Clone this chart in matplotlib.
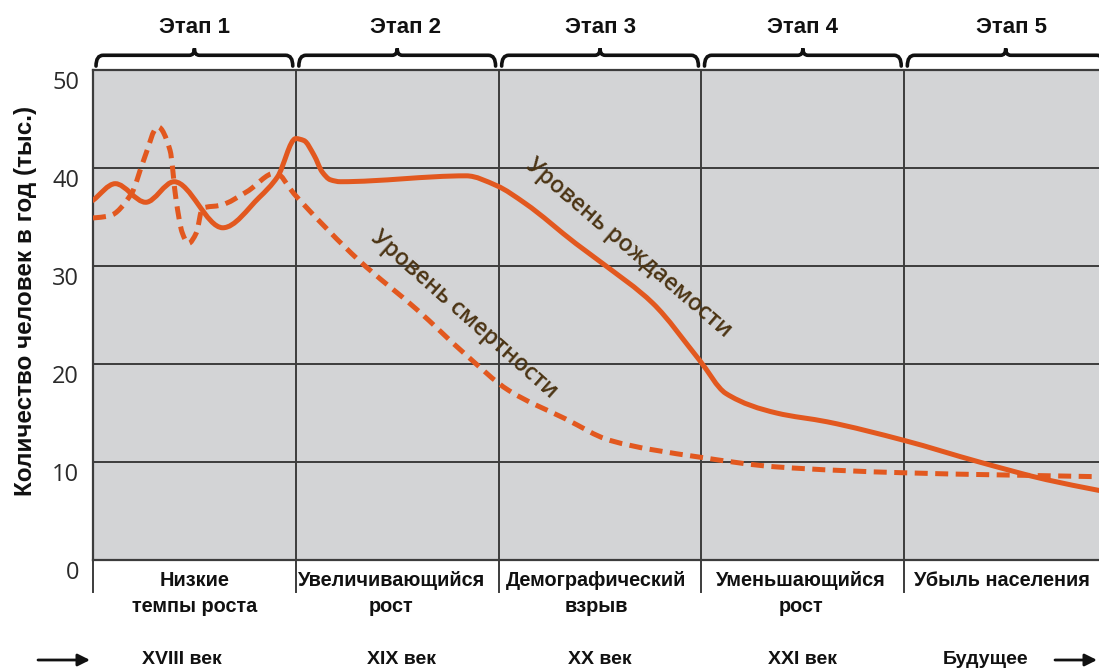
import numpy as np
import matplotlib
matplotlib.use('Agg')
import matplotlib.pyplot as plt
from matplotlib.path import Path
from matplotlib.patches import PathPatch
from matplotlib.transforms import ScaledTranslation

# stage units: 0..5, boundaries at integers
birth_x = [0.00, 0.11, 0.26, 0.40, 0.64, 0.82, 0.91, 1.00, 1.04, 1.09, 1.13, 1.17, 1.22,
           1.84, 1.99, 2.13, 2.38, 2.51, 2.76, 2.99, 3.12, 3.37, 3.62, 4.00, 4.37, 4.70, 4.96]
birth_y = [36.7, 38.4, 36.5, 38.6, 33.9, 37.0, 39.1, 43.0, 42.8, 41.3, 39.6, 38.8, 38.6,
           39.2, 38.2, 36.4, 32.3, 30.3, 26.2, 20.4, 17.0, 15.0, 14.1, 12.2, 10.0, 8.2, 7.1]

death_x = [0.00, 0.08, 0.19, 0.25, 0.32, 0.38, 0.41, 0.44, 0.47, 0.51, 0.54, 0.63, 0.76,
           0.90, 0.99, 1.02, 1.31, 1.60, 1.83, 2.05, 2.33, 2.55, 2.99, 3.37, 4.00, 4.96]
death_y = [34.9, 35.1, 37.4, 40.8, 44.2, 41.8, 36.7, 33.4, 32.3, 33.4, 35.9, 36.2, 37.6,
           39.5, 37.4, 36.7, 30.6, 25.5, 21.1, 17.3, 14.4, 12.2, 10.5, 9.5, 8.9, 8.5]

stages = ['Этап 1', 'Этап 2', 'Этап 3', 'Этап 4', 'Этап 5']
stage_names = ['Низкие\nтемпы роста', 'Увеличивающийся\nрост', 'Демографический\nвзрыв',
               'Уменьшающийся\nрост', 'Убыль населения']
centuries = ['XVIII век', 'XIX век', 'XX век', 'XXI век', 'Будущее']
yticks = [0, 10, 20, 30, 40, 50]

orange = '#E2581F'
brown = '#4B3414'
grid_c = '#3c3c3c'


def smooth_path(xs, ys):
    # monotone cubic (pchip-like) through the read points, drawn as bezier segments
    x = np.asarray(xs, float)
    y = np.asarray(ys, float)
    h = np.diff(x)
    d = np.diff(y) / h
    m = np.zeros_like(y)
    m[0], m[-1] = d[0], d[-1]
    for i in range(1, len(x) - 1):
        if d[i - 1] * d[i] > 0:
            w1 = 2 * h[i] + h[i - 1]
            w2 = h[i] + 2 * h[i - 1]
            m[i] = (w1 + w2) / (w1 / d[i - 1] + w2 / d[i])
    verts = [(x[0], y[0])]
    codes = [Path.MOVETO]
    for i in range(len(x) - 1):
        verts += [(x[i] + h[i] / 3, y[i] + m[i] * h[i] / 3),
                  (x[i + 1] - h[i] / 3, y[i + 1] - m[i + 1] * h[i] / 3),
                  (x[i + 1], y[i + 1])]
        codes += [Path.CURVE4] * 3
    return Path(verts, codes)


def bracket(ax, x0, x1, y0):
    xm = (x0 + x1) / 2
    v = [(x0, y0 - 1.1), (x0, y0), (x0 + 0.035, y0), (xm - 0.025, y0),
         (xm, y0), (xm, y0 + 0.7), (xm, y0), (xm + 0.025, y0),
         (x1 - 0.035, y0), (x1, y0), (x1, y0 - 1.1)]
    c = [Path.MOVETO, Path.CURVE3, Path.CURVE3, Path.LINETO,
         Path.CURVE3, Path.CURVE3, Path.CURVE3, Path.CURVE3,
         Path.LINETO, Path.CURVE3, Path.CURVE3]
    ax.add_patch(PathPatch(Path(v, c), fill=False, edgecolor='#111111', lw=2.6,
                           clip_on=False, capstyle='round'))


fig = plt.figure(figsize=(10.99, 6.69), dpi=100)
ax = fig.add_axes([0.0846, 0.1629, 0.9154, 0.7325])
ax.set_facecolor('#D3D4D6')
ax.set_xlim(0, 4.96)
ax.set_ylim(0, 50)

for v in yticks[1:-1]:
    ax.axhline(v, color=grid_c, lw=1.4, zorder=1)
for i in range(1, 5):
    ax.axvline(i, color=grid_c, lw=1.4, zorder=1)

ax.spines['right'].set_visible(False)
for s in ['left', 'top', 'bottom']:
    ax.spines[s].set_color(grid_c)
    ax.spines[s].set_linewidth(1.6)

ax.set_xticks([])
ax.set_yticks(yticks)
ax.set_yticklabels([str(t) for t in yticks], fontfamily='Open Sans', fontsize=17, color='#2a2a2a')
ax.tick_params(axis='y', length=0, pad=10)
for lab in ax.get_yticklabels():
    lab.set_transform(lab.get_transform() + ScaledTranslation(0, -0.10, fig.dpi_scale_trans))

ax.add_patch(PathPatch(smooth_path(birth_x, birth_y), fill=False, edgecolor=orange,
                       lw=3.6, capstyle='round', joinstyle='round', zorder=3))
ax.add_patch(PathPatch(smooth_path(death_x, death_y), fill=False, edgecolor=orange,
                       lw=3.6, linestyle=(0, (2.6, 1.5)), capstyle='butt', zorder=3))

ax.text(2.64, 31.8, 'Уровень рождаемости', rotation=-40.5, rotation_mode='anchor',
        ha='center', va='center', fontsize=16.5, color=brown, fontfamily='Open Sans',
        fontweight='semibold')
ax.text(1.83, 25.0, 'Уровень смертности', rotation=-41.5, rotation_mode='anchor',
        ha='center', va='center', fontsize=16.5, color=brown, fontfamily='Open Sans',
        fontweight='semibold')

# dividers below axis
for i in range(0, 5):
    ax.plot([i, i], [0, -3.3], color=grid_c, lw=1.4, clip_on=False)

bold = dict(fontfamily='Liberation Sans', fontweight='bold', color='#111111')
head_x = [0.5, 1.54, 2.5, 3.5, 4.53]
name_x = [0.5, 1.47, 2.48, 3.49, 4.48]
cent_x = [0.44, 1.52, 2.5, 3.5, 4.4]
for i in range(5):
    bracket(ax, i + 0.015, i + 0.985, 51.5)
    ax.text(head_x[i], 54.3, stages[i], ha='center', va='center', fontsize=16, **bold)
    ax.text(name_x[i], -1.15, stage_names[i], ha='center', va='top', fontsize=14.3,
            linespacing=1.45, **bold)
    ax.text(cent_x[i], -10.2, centuries[i], ha='center', va='center',
            fontsize=14, **bold)

ap = dict(arrowstyle='-|>', color='#111111', lw=2, mutation_scale=18, shrinkA=0, shrinkB=0)
ax.annotate('', xy=(90, 9), xycoords='figure pixels', xytext=(38, 9), textcoords='figure pixels',
            arrowprops=ap)
ax.annotate('', xy=(1097, 9), xycoords='figure pixels', xytext=(1055, 9), textcoords='figure pixels',
            arrowprops=ap)

fig.text(0.023, 0.55, 'Количество человек в год (тыс.)', rotation=90, ha='center', va='center',
         fontsize=17.5, fontfamily='Liberation Sans', fontweight='bold', color='#111111')

fig.savefig('out.png', dpi=100)
